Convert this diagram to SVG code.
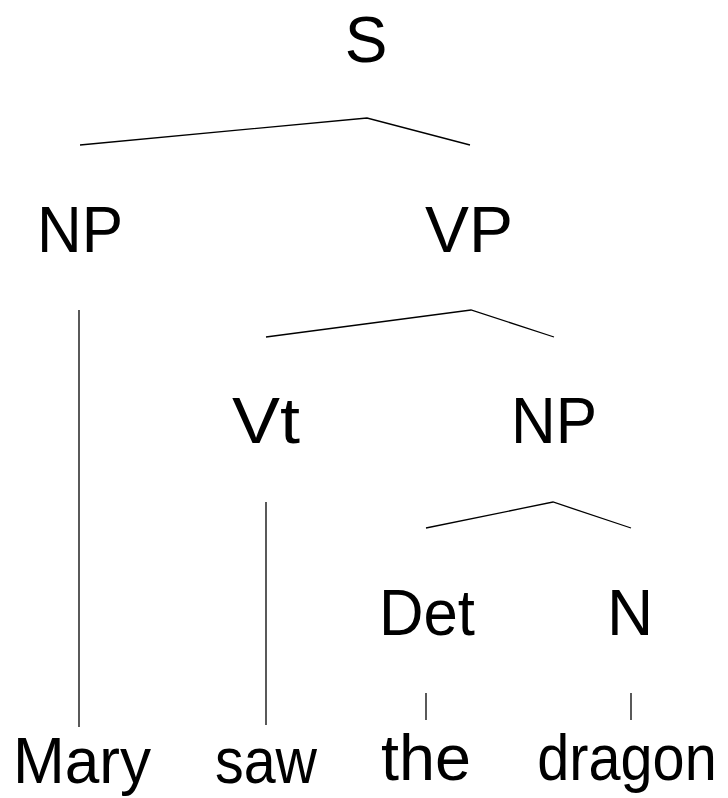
<svg xmlns="http://www.w3.org/2000/svg" width="728" height="798" viewBox="0 0 728 798">
<style>
text{font-family:"Liberation Sans",Arial,sans-serif;font-size:64px;fill:#000;text-anchor:middle}
.c{fill:none;stroke:#000;stroke-width:1.3}
</style>
<rect width="728" height="798" fill="#fff"/>
<g id="connectors">
<polyline class="c" points="80,145 367,118 470,145"/>
<polyline class="c" points="266,337 471,310 554,337"/>
<polyline class="c" points="426,528 553,502 631,528"/>
<line class="c" x1="79" y1="310" x2="79" y2="727"/>
<line class="c" x1="266" y1="502" x2="266" y2="725"/>
<line class="c" x1="426" y1="693" x2="426" y2="720"/>
<line class="c" x1="631" y1="693" x2="631" y2="720"/>
</g>
<g id="S"><text x="366" y="62">S</text></g>
<g id="NP1"><text x="80" y="252" textLength="86" lengthAdjust="spacingAndGlyphs">NP</text></g>
<g id="VP"><text x="469" y="252" textLength="88" lengthAdjust="spacingAndGlyphs">VP</text></g>
<g id="Vt"><text x="266" y="443" textLength="68" lengthAdjust="spacingAndGlyphs">Vt</text></g>
<g id="NP2"><text x="554" y="443" textLength="86" lengthAdjust="spacingAndGlyphs">NP</text></g>
<g id="Det"><text x="427" y="635" textLength="96" lengthAdjust="spacingAndGlyphs">Det</text></g>
<g id="N"><text x="630" y="635">N</text></g>
<g id="Mary"><text x="82" y="783" textLength="138" lengthAdjust="spacingAndGlyphs">Mary</text></g>
<g id="saw"><text x="266" y="783" textLength="102" lengthAdjust="spacingAndGlyphs">saw</text></g>
<g id="the"><text x="426" y="780" textLength="90" lengthAdjust="spacingAndGlyphs">the</text></g>
<g id="dragon"><text transform="translate(627,780) scale(0.9,1)" x="0" y="0">dragon</text></g>
</svg>
